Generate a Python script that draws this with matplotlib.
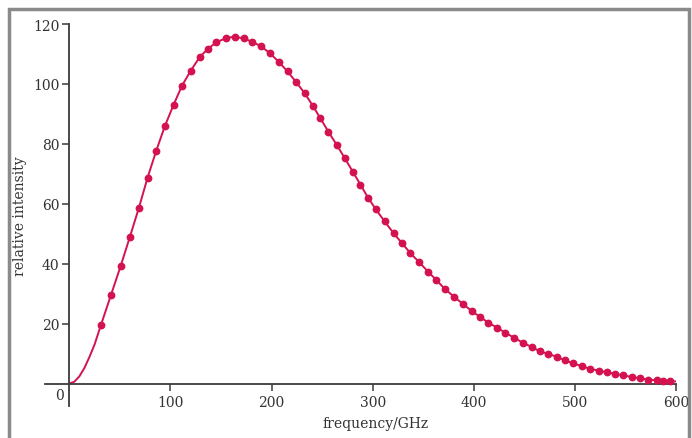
import matplotlib
matplotlib.use("Agg")
import matplotlib.pyplot as plt
from matplotlib.patches import Rectangle

# measured points (frequency in GHz, relative intensity)
freq = [31.3, 41.2, 50.7, 60.0, 68.9, 77.4, 86.0, 94.6, 103.1, 111.4,
        119.9, 128.8, 136.7, 145.3, 154.9, 163.4, 172.3, 180.9, 189.5, 198.7,
        207.3, 215.8, 224.4, 232.6, 240.9, 248.4, 256.3, 264.6, 272.5, 280.4,
        287.9, 295.5, 303.2, 311.7, 320.6, 328.9, 337.1, 346.0, 354.9, 363.1,
        371.9, 380.8, 389.4, 398.0, 406.3, 414.5, 422.8, 431.3, 439.9, 448.5,
        457.3, 465.6, 473.8, 482.1, 490.3, 498.5, 506.8, 515.0, 523.3, 531.5,
        539.7, 547.9, 556.2, 564.4, 572.6, 580.9, 587.4, 594.0]
intensity = [19.5, 29.5, 39.1, 49.0, 58.7, 68.7, 77.7, 86.0, 93.0, 99.4,
             104.3, 108.9, 111.6, 113.9, 115.3, 115.8, 115.2, 114.1, 112.6, 110.2,
             107.3, 104.2, 100.6, 97.0, 92.7, 88.5, 84.0, 79.6, 75.2, 70.7,
             66.4, 62.0, 58.1, 54.2, 50.2, 46.9, 43.6, 40.5, 37.3, 34.5,
             31.4, 28.9, 26.5, 24.2, 22.2, 20.3, 18.7, 16.9, 15.3, 13.6,
             12.2, 10.7, 9.9, 8.9, 7.7, 6.7, 5.8, 4.9, 4.3, 3.8,
             3.2, 2.7, 2.2, 1.7, 1.3, 1.1, 0.9, 0.8]

# theoretical curve continues below the first point and past the last one
curve_start_f = [0, 5, 10, 15, 20, 25]
curve_start_i = [0, 0.6, 2.4, 5.2, 8.9, 13.0]
curve_end_f = [600]
curve_end_i = [0.7]

xticks = [100, 200, 300, 400, 500, 600]
yticks = [20, 40, 60, 80, 100, 120]

colour = "#d3124f"
axcol = "#3a3a3a"
txtcol = "#333333"
fs = 10
plt.rcParams["font.family"] = ["DejaVu Serif"]

fig = plt.figure(figsize=(6.92, 4.39), dpi=100)
ax = fig.add_axes([0.065, 0.0729, 0.912, 0.870])

ax.plot(curve_start_f + freq + curve_end_f,
        curve_start_i + intensity + curve_end_i,
        color=colour, lw=1.4, zorder=2)
ax.plot(freq, intensity, "o", color=colour, ms=4.6, mec=colour, zorder=3)

ax.set_xlim(-24, 600)
ax.set_ylim(-7.5, 120)
for s in ["top", "right"]:
    ax.spines[s].set_visible(False)
ax.spines["left"].set_position(("data", 0))
ax.spines["bottom"].set_position(("data", 0))
for s in ["left", "bottom"]:
    ax.spines[s].set_color(axcol)
    ax.spines[s].set_linewidth(1.3)

ax.set_xticks(xticks)
ax.set_yticks(yticks)
ax.tick_params(axis="both", direction="out", length=5, width=1.1,
               color=axcol, labelsize=fs, labelcolor=txtcol)
ax.tick_params(axis="x", pad=3)
ax.tick_params(axis="y", pad=2)
ax.text(-5, -3.9, "0", ha="right", va="center", fontsize=fs, color=txtcol)

ax.set_xlabel("frequency/GHz", fontsize=fs, color=txtcol)
ax.xaxis.set_label_coords(0.523, -0.025)
ax.set_ylabel("relative intensity", fontsize=fs, color=txtcol)
ax.yaxis.set_label_coords(-0.028, 0.5)

# grey frame round the picture
fig.patches.append(Rectangle((9 / 692, -0.02), 680 / 692, 1 - 10 / 439 + 0.02,
                             transform=fig.transFigure, fill=False,
                             edgecolor="#8a8a8a", lw=2.5))

fig.savefig("out.png", dpi=100)
